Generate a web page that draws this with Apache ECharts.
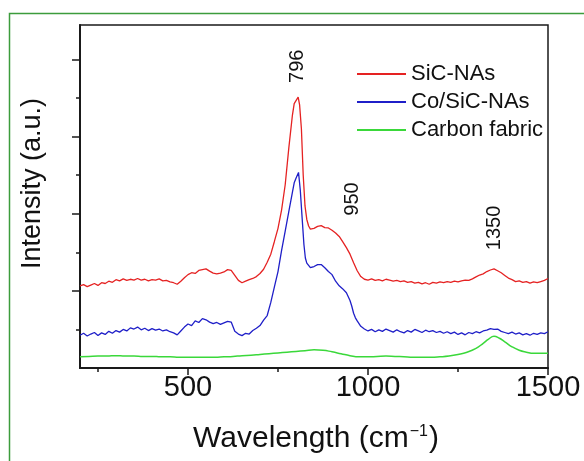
<!DOCTYPE html>
<html>
<head>
<meta charset="utf-8">
<script src="https://cdn.jsdelivr.net/npm/echarts@6/dist/echarts.min.js"></script>
<style>
  html, body { margin: 0; padding: 0; background: #fff; }
  #chart { width: 584px; height: 461px; }
</style>
</head>
<body>
<div id="chart"></div>
<script>
// Raman spectra, [wavenumber cm-1, intensity a.u.]
const seriesNames = ['SiC-NAs', 'Co/SiC-NAs', 'Carbon fabric']
const xTickLabels = [500, 1000, 1500]
const xMinorTicks = [250, 750, 1250]
const yMajorTicks = [2, 4, 6, 8]
const yMinorTicks = [1, 3, 5, 7]
const peakNames = ['796', '950', '1350']

const sicNAs = [
  [200, 2.13], [210, 2.16], [220, 2.11], [230, 2.15], [240, 2.19], [250, 2.14], [260, 2.21], [270, 2.19],
  [280, 2.25], [290, 2.22], [300, 2.29], [310, 2.26], [320, 2.31], [330, 2.27], [340, 2.30], [350, 2.28],
  [360, 2.32], [370, 2.28], [380, 2.30], [390, 2.26], [400, 2.29], [410, 2.28], [420, 2.31], [430, 2.26],
  [440, 2.27], [450, 2.23], [460, 2.21], [470, 2.17], [480, 2.25], [490, 2.34], [500, 2.42], [510, 2.47],
  [520, 2.45], [530, 2.53], [540, 2.55], [550, 2.57], [560, 2.51], [570, 2.46], [580, 2.44], [590, 2.46],
  [600, 2.49], [610, 2.55], [620, 2.53], [630, 2.40], [640, 2.27], [650, 2.21], [660, 2.25], [670, 2.29],
  [680, 2.32], [690, 2.37], [700, 2.45], [710, 2.56], [720, 2.74], [730, 2.95], [740, 3.28], [750, 3.62],
  [760, 4.10], [770, 4.75], [780, 5.70], [790, 6.55], [795, 6.85], [800, 6.90], [806, 7.02], [810, 6.82],
  [815, 6.20], [820, 5.00], [825, 4.20], [830, 3.85], [835, 3.68], [840, 3.60], [850, 3.62], [860, 3.67],
  [870, 3.69], [880, 3.64], [890, 3.63], [900, 3.57], [910, 3.50], [920, 3.41], [930, 3.27], [940, 3.12],
  [950, 2.95], [960, 2.73], [970, 2.52], [980, 2.37], [990, 2.30], [1000, 2.28], [1010, 2.31], [1020, 2.27],
  [1030, 2.29], [1040, 2.26], [1050, 2.30], [1060, 2.28], [1070, 2.25], [1080, 2.27], [1090, 2.24], [1100, 2.26],
  [1110, 2.22], [1120, 2.24], [1130, 2.20], [1140, 2.22], [1150, 2.18], [1160, 2.21], [1170, 2.17], [1180, 2.22],
  [1190, 2.20], [1200, 2.23], [1210, 2.21], [1220, 2.24], [1230, 2.22], [1240, 2.25], [1250, 2.23], [1260, 2.26],
  [1270, 2.28], [1280, 2.27], [1290, 2.31], [1300, 2.36], [1310, 2.41], [1320, 2.44], [1330, 2.50], [1340, 2.54],
  [1350, 2.57], [1360, 2.52], [1370, 2.47], [1380, 2.40], [1390, 2.33], [1400, 2.29], [1410, 2.24], [1420, 2.26],
  [1430, 2.22], [1440, 2.24], [1450, 2.20], [1460, 2.23], [1470, 2.21], [1480, 2.24], [1490, 2.27], [1500, 2.32]
]

const coSicNAs = [
  [200, 0.85], [210, 0.90], [220, 0.83], [230, 0.88], [240, 0.92], [250, 0.84], [260, 0.91], [270, 0.87],
  [280, 0.95], [290, 0.90], [300, 0.97], [310, 0.93], [320, 1.00], [330, 0.96], [340, 1.04], [350, 1.01],
  [360, 1.06], [370, 0.99], [380, 1.03], [390, 0.97], [400, 1.02], [410, 0.98], [420, 1.01], [430, 0.96],
  [440, 0.99], [450, 0.94], [460, 0.91], [470, 0.86], [480, 0.96], [490, 1.06], [500, 1.14], [510, 1.10],
  [520, 1.22], [530, 1.18], [540, 1.28], [550, 1.25], [560, 1.19], [570, 1.15], [580, 1.18], [590, 1.13],
  [600, 1.17], [610, 1.21], [620, 1.19], [630, 0.95], [640, 0.88], [650, 0.84], [660, 0.90], [670, 0.88],
  [680, 0.97], [690, 1.03], [700, 1.10], [710, 1.24], [720, 1.36], [730, 1.70], [740, 2.10], [750, 2.50],
  [760, 3.05], [770, 3.55], [780, 4.05], [790, 4.55], [795, 4.80], [800, 4.92], [807, 5.07], [812, 4.60],
  [817, 3.89], [822, 3.20], [826, 2.85], [830, 2.72], [840, 2.60], [850, 2.63], [860, 2.68], [870, 2.68],
  [880, 2.60], [890, 2.50], [900, 2.42], [910, 2.25], [920, 2.13], [930, 2.05], [940, 1.95], [950, 1.75],
  [955, 1.60], [960, 1.42], [965, 1.30], [970, 1.22], [980, 1.08], [990, 1.01], [1000, 0.96], [1010, 1.00],
  [1020, 0.94], [1030, 0.99], [1040, 0.95], [1050, 1.01], [1060, 0.97], [1070, 0.93], [1080, 0.99], [1090, 0.94],
  [1100, 0.91], [1110, 0.97], [1120, 0.93], [1130, 1.00], [1140, 0.96], [1150, 0.92], [1160, 0.98], [1170, 0.94],
  [1180, 0.97], [1190, 0.92], [1200, 0.95], [1210, 0.90], [1220, 0.94], [1230, 0.89], [1240, 0.93], [1250, 0.87],
  [1260, 0.91], [1270, 0.86], [1280, 0.92], [1290, 0.89], [1300, 0.94], [1310, 0.91], [1320, 0.96], [1330, 0.98],
  [1340, 1.02], [1350, 1.00], [1360, 1.01], [1370, 0.95], [1380, 0.92], [1390, 0.89], [1400, 0.93], [1410, 0.88],
  [1420, 0.91], [1430, 0.86], [1440, 0.89], [1450, 0.85], [1460, 0.90], [1470, 0.87], [1480, 0.91], [1490, 0.89],
  [1500, 0.94]
]

const carbonFabric = [
  [200, 0.29], [225, 0.30], [250, 0.31], [275, 0.31], [300, 0.32], [325, 0.31], [350, 0.31], [375, 0.30],
  [400, 0.30], [425, 0.29], [450, 0.29], [475, 0.28], [500, 0.28], [525, 0.28], [550, 0.28], [575, 0.28],
  [600, 0.29], [625, 0.30], [650, 0.32], [675, 0.33], [700, 0.35], [725, 0.37], [750, 0.39], [775, 0.41],
  [800, 0.43], [825, 0.45], [850, 0.47], [875, 0.46], [900, 0.42], [925, 0.37], [950, 0.32], [975, 0.29],
  [1000, 0.29], [1025, 0.30], [1050, 0.31], [1075, 0.30], [1100, 0.29], [1125, 0.28], [1150, 0.28], [1175, 0.28],
  [1200, 0.29], [1225, 0.31], [1250, 0.35], [1275, 0.41], [1300, 0.51], [1320, 0.64], [1335, 0.75], [1350, 0.82],
  [1365, 0.77], [1380, 0.68], [1400, 0.55], [1420, 0.46], [1440, 0.41], [1460, 0.38], [1480, 0.38], [1500, 0.38]
]

// where the rotated peak labels sit, in data units
const peakLabelAt = [[804, 7.82], [956, 4.38], [1350, 3.63]]

const font = 'Liberation Sans, Arial, sans-serif'
const axisColor = '#1a1a1a'

const myChart = echarts.init(document.getElementById('chart'))
myChart.setOption({
  backgroundColor: '#fff',
  animation: false,
  grid: {
    left: 80,
    right: 36,
    top: 25,
    bottom: 93,
    show: true,
    borderColor: axisColor,
    borderWidth: 1.5
  },
  legend: {
    orient: 'vertical',
    left: 352,
    top: 58,
    itemWidth: 49,
    itemHeight: 2,
    itemGap: 6,
    icon: 'rect',
    textStyle: { fontSize: 22, fontFamily: font, color: '#111' },
    data: seriesNames
  },
  xAxis: [
    {
      type: 'value',
      min: 200,
      max: 1500,
      name: 'Wavelength (cm{sup|−1})',
      nameLocation: 'middle',
      nameGap: 56,
      nameTextStyle: {
        fontSize: 30,
        fontFamily: font,
        color: '#111',
        padding: [0, 0, 0, 4],
        rich: {
          sup: { fontSize: 16, fontFamily: font, color: '#111', verticalAlign: 'top', padding: [0, 1, 0, 1] }
        }
      },
      axisLine: { show: true, lineStyle: { color: axisColor, width: 2 } },
      axisTick: { show: true, customValues: xTickLabels, length: 7, lineStyle: { color: axisColor, width: 1.5 } },
      axisLabel: {
        customValues: xTickLabels,
        formatter: (v) => String(v),
        fontSize: 29,
        fontFamily: font,
        color: '#111',
        margin: 5
      },
      splitLine: { show: false }
    },
    {
      type: 'value',
      min: 200,
      max: 1500,
      position: 'bottom',
      axisLine: { show: false },
      axisTick: { show: true, customValues: xMinorTicks, length: 4, lineStyle: { color: axisColor, width: 1.5 } },
      axisLabel: { show: false },
      splitLine: { show: false }
    }
  ],
  yAxis: [
    {
      type: 'value',
      min: 0,
      max: 8.89,
      name: 'Intensity (a.u.)',
      nameLocation: 'middle',
      nameRotate: 90,
      nameGap: 34,
      nameTextStyle: { fontSize: 27, fontFamily: font, color: '#111', padding: [0, 0, 0, 26] },
      axisLine: { show: true, lineStyle: { color: axisColor, width: 2 } },
      axisTick: { show: true, customValues: yMajorTicks, length: 8, lineStyle: { color: axisColor, width: 1.5 } },
      axisLabel: { show: false },
      splitLine: { show: false }
    },
    {
      type: 'value',
      min: 0,
      max: 8.89,
      position: 'left',
      axisLine: { show: false },
      axisTick: { show: true, customValues: yMinorTicks, length: 4, lineStyle: { color: axisColor, width: 1.5 } },
      axisLabel: { show: false },
      splitLine: { show: false }
    }
  ],
  series: [
    {
      name: seriesNames[0],
      type: 'line',
      data: sicNAs,
      showSymbol: false,
      color: '#e52222',
      lineStyle: { width: 1.3, color: '#e52222' }
    },
    {
      name: seriesNames[1],
      type: 'line',
      data: coSicNAs,
      showSymbol: false,
      color: '#1f1fc8',
      lineStyle: { width: 1.3, color: '#1f1fc8' }
    },
    {
      name: seriesNames[2],
      type: 'line',
      data: carbonFabric,
      showSymbol: false,
      smooth: true,
      color: '#3ad83a',
      lineStyle: { width: 1.5, color: '#3ad83a' }
    }
  ]
})

// peak labels, rotated, placed through the axes; plus the green frame
const labels = peakNames.map((txt, i) => {
  const p = myChart.convertToPixel({ xAxisIndex: 0, yAxisIndex: 0 }, peakLabelAt[i])
  return {
    type: 'text',
    x: p[0],
    y: p[1],
    rotation: Math.PI / 2,
    style: { text: txt, fontSize: 20, fontFamily: font, fill: '#111', align: 'center', verticalAlign: 'middle' }
  }
})
labels.push({
  type: 'rect',
  shape: { x: 9.5, y: 13.5, width: 600, height: 500 },
  style: { fill: 'none', stroke: '#3c9c3c', lineWidth: 1.5 },
  silent: true
})
myChart.setOption({ graphic: labels })
</script>
</body>
</html>
